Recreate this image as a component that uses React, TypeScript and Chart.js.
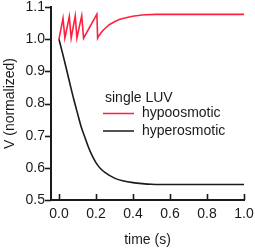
import React, { useEffect, useRef } from "react";
import { Chart, registerables } from "chart.js";

Chart.register(...registerables);

const hypoTime = [0, 0.022, 0.032, 0.056, 0.066, 0.088, 0.097, 0.123, 0.133, 0.205, 0.209, 0.214, 0.236, 0.25, 0.272, 0.3, 0.326, 0.35, 0.398, 0.45, 0.47, 0.524, 0.6, 0.8, 1.0];
const hypoV = [1.0, 1.065, 1.003, 1.07, 1.003, 1.072, 1.003, 1.073, 1.003, 1.078, 1.003, 1.009, 1.026, 1.034, 1.045, 1.054, 1.061, 1.065, 1.071, 1.075, 1.076, 1.077, 1.077, 1.077, 1.077];

const hyperTime = [0, 0.02, 0.04, 0.06, 0.08, 0.1, 0.12, 0.14, 0.16, 0.18, 0.2, 0.225, 0.25, 0.3, 0.35, 0.4, 0.45, 0.5, 0.6, 0.7, 0.8, 1.0];
const hyperV = [1.0, 0.955, 0.908, 0.86, 0.813, 0.77, 0.728, 0.695, 0.663, 0.637, 0.616, 0.597, 0.585, 0.568, 0.559, 0.554, 0.551, 0.549, 0.548, 0.548, 0.548, 0.548];

const xTicks = [0, 0.2, 0.4, 0.6, 0.8, 1.0];
const yTicks = [0.5, 0.6, 0.7, 0.8, 0.9, 1.0, 1.1];

const legendTitle = "single LUV";
const seriesNames = ["hypoosmotic", "hyperosmotic"];
const seriesColors = ["#ff2040", "#1a1a1a"];

const FONT = "'Liberation Sans', Arial, sans-serif";
const FS = 14;

const extrasPlugin = {
  id: "extras",
  afterDraw(chart: any) {
    const { ctx, chartArea, scales } = chart;
    const xs = scales.x;
    const ys = scales.y;
    ctx.save();
    ctx.strokeStyle = "#1a1a1a";
    ctx.lineWidth = 1.6;
    for (const v of xTicks) {
      const px = Math.round(xs.getPixelForValue(v)) + 0.5;
      ctx.beginPath();
      ctx.moveTo(px, chartArea.bottom);
      ctx.lineTo(px, chartArea.bottom - 6);
      ctx.stroke();
    }
    for (const v of yTicks) {
      const py = Math.round(ys.getPixelForValue(v)) + 0.5;
      ctx.beginPath();
      ctx.moveTo(chartArea.left, py);
      ctx.lineTo(chartArea.left - 6, py);
      ctx.stroke();
    }
    const lx = chartArea.left + 52;
    const ty = chartArea.top + 91;
    ctx.font = `${FS}px ${FONT}`;
    ctx.fillStyle = "#1a1a1a";
    ctx.textBaseline = "middle";
    ctx.textAlign = "left";
    ctx.fillText(legendTitle, lx + 2, ty);
    const rows = [ty + 15.5, ty + 33];
    rows.forEach((ry, i) => {
      ctx.strokeStyle = seriesColors[i];
      ctx.lineWidth = 1.5;
      ctx.beginPath();
      ctx.moveTo(lx, ry);
      ctx.lineTo(lx + 31, ry);
      ctx.stroke();
      ctx.fillStyle = "#1a1a1a";
      ctx.fillText(seriesNames[i], lx + 39, ry);
    });
    ctx.restore();
  },
};

export default function App() {
  const ref = useRef<HTMLCanvasElement>(null);
  useEffect(() => {
    if (!ref.current) return;
    const chart = new Chart(ref.current, {
      type: "line",
      data: {
        datasets: [
          {
            label: seriesNames[0],
            data: hypoTime.map((t, i) => ({ x: t, y: hypoV[i] })),
            borderColor: seriesColors[0],
            borderWidth: 1.6,
            pointRadius: 0,
            tension: 0,
          },
          {
            label: seriesNames[1],
            data: hyperTime.map((t, i) => ({ x: t, y: hyperV[i] })),
            borderColor: seriesColors[1],
            borderWidth: 1.6,
            pointRadius: 0,
            cubicInterpolationMode: "monotone",
          },
        ],
      },
      options: {
        animation: false,
        responsive: false,
        devicePixelRatio: 1,
        layout: { padding: { left: 0, right: 11, top: 7, bottom: 0 } },
        plugins: { legend: { display: false }, tooltip: { enabled: false } },
        scales: {
          x: {
            type: "linear",
            min: -0.043,
            max: 1.0,
            afterBuildTicks: (s: any) => {
              s.ticks = xTicks.map((v) => ({ value: v }));
            },
            afterFit: (s: any) => {
              s.height = 49;
              s.paddingLeft = 0;
              s.paddingRight = 0;
            },
            grid: { display: false, drawTicks: false },
            border: { display: true, color: "#1a1a1a", width: 2 },
            ticks: {
              padding: 7,
              maxRotation: 0,
              autoSkip: false,
              color: "#1a1a1a",
              font: { family: FONT, size: FS, lineHeight: 1 },
              callback: (v: any) => Number(v).toFixed(1),
            },
            title: {
              display: true,
              text: "time (s)",
              color: "#1a1a1a",
              font: { family: FONT, size: FS },
              padding: { top: 6, bottom: 0 },
            },
          },
          y: {
            type: "linear",
            min: 0.5,
            max: 1.1,
            afterBuildTicks: (s: any) => {
              s.ticks = yTicks.map((v) => ({ value: v }));
            },
            afterFit: (s: any) => {
              s.width = 51;
              s.paddingTop = 0;
              s.paddingBottom = 0;
            },
            grid: { display: false, drawTicks: false },
            border: { display: true, color: "#1a1a1a", width: 2 },
            ticks: {
              padding: 6,
              color: "#1a1a1a",
              font: { family: FONT, size: FS, lineHeight: 1 },
              callback: (v: any) => Number(v).toFixed(1),
            },
            title: {
              display: true,
              text: "V (normalized)",
              color: "#1a1a1a",
              font: { family: FONT, size: FS },
              padding: { top: 2, bottom: 0 },
            },
          },
        },
      },
      plugins: [extrasPlugin],
    });
    return () => chart.destroy();
  }, []);
  return (
    <div style={{ position: "absolute", left: 0, top: 0, width: 255, height: 249 }}>
      <canvas ref={ref} width={255} height={249} style={{ display: "block" }} />
    </div>
  );
}
